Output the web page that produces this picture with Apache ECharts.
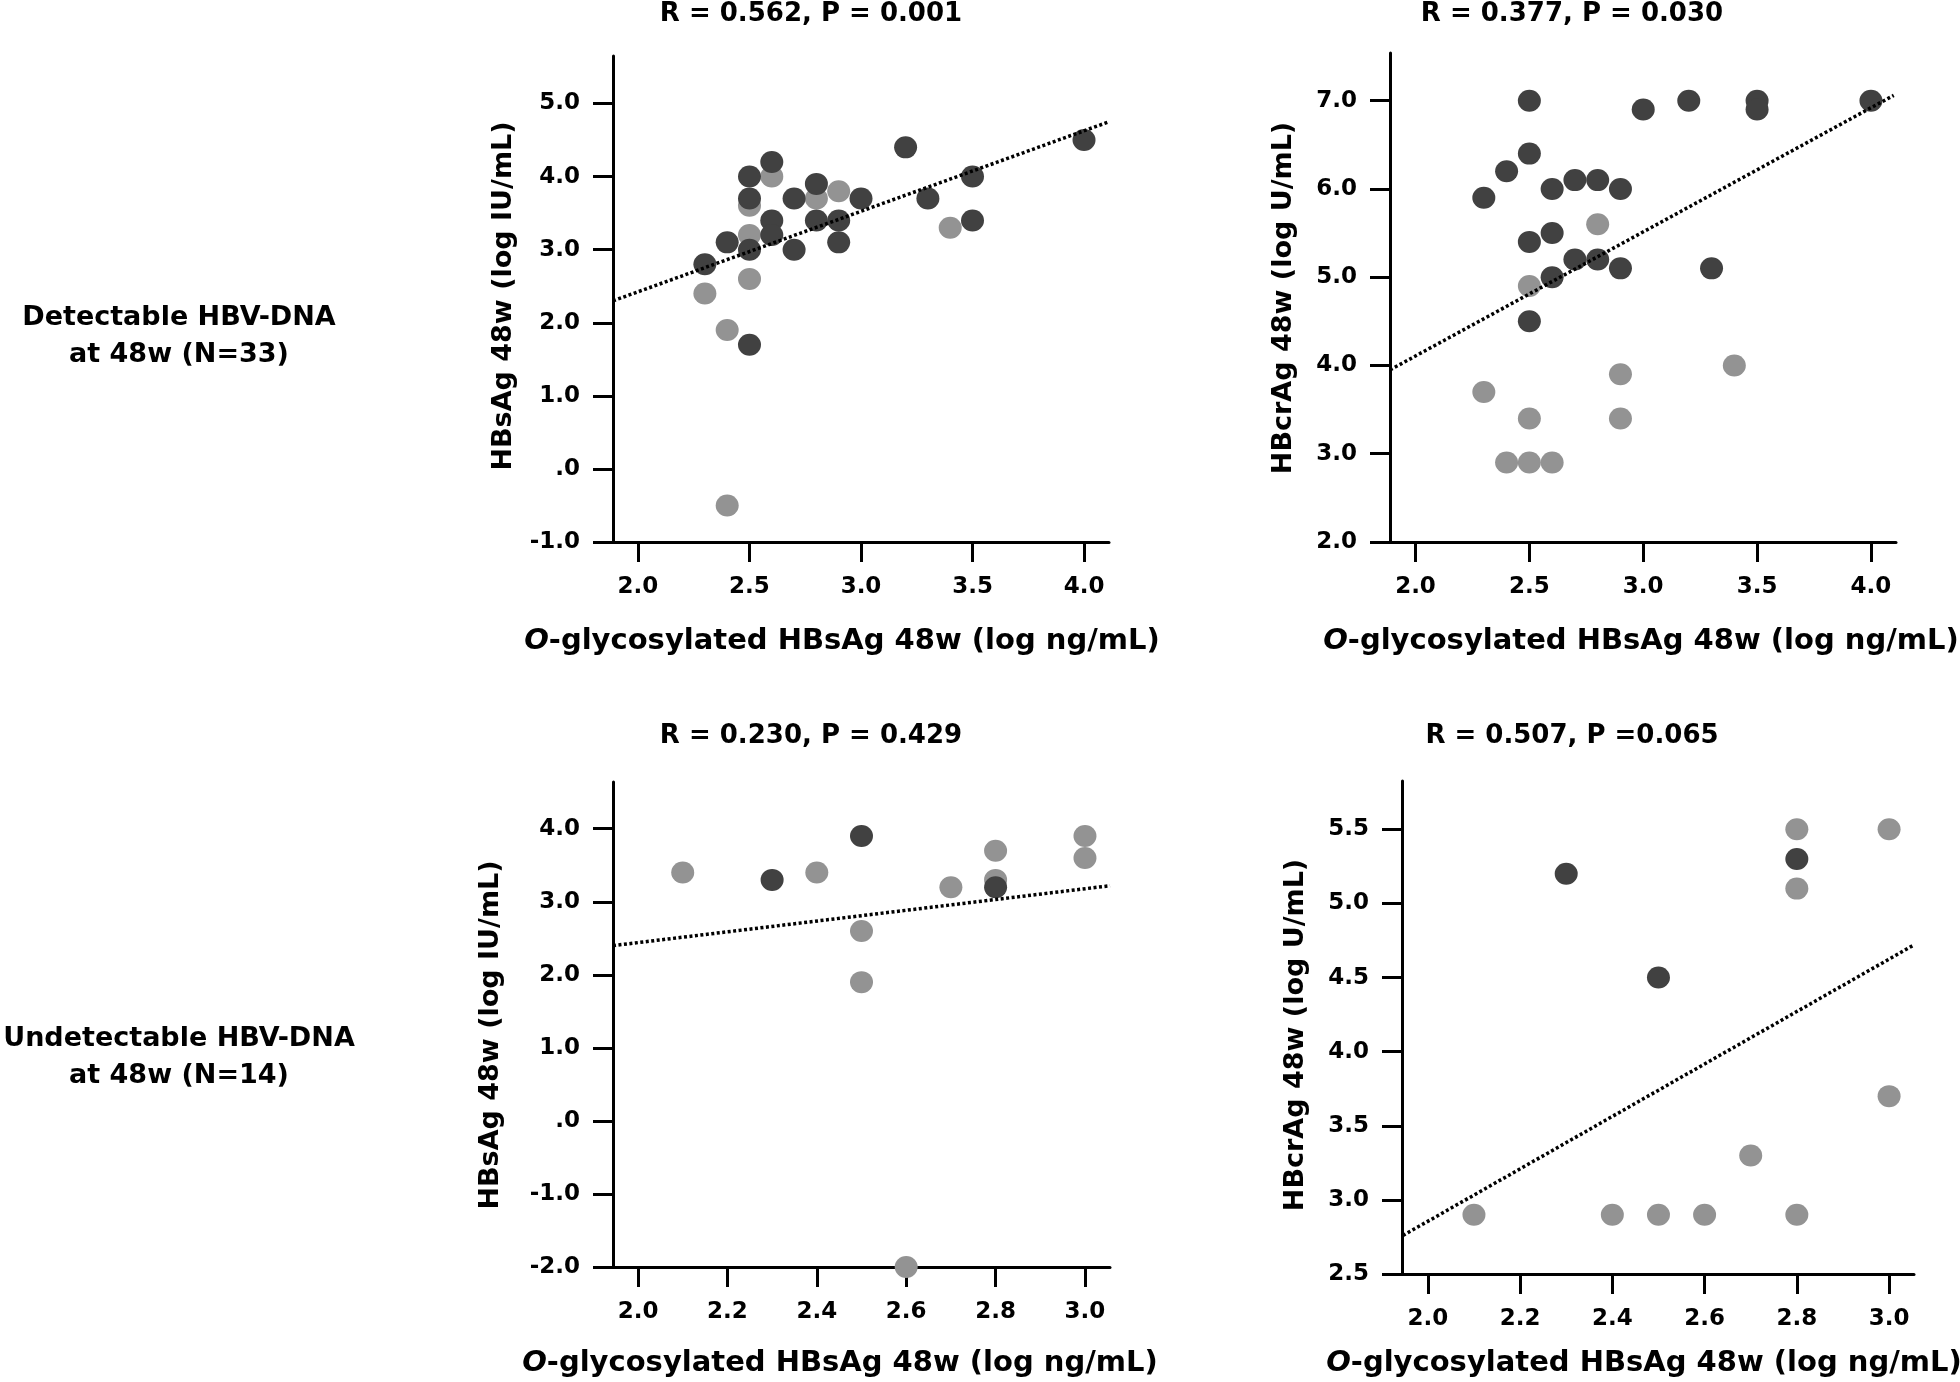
<!DOCTYPE html>
<html><head><meta charset="utf-8">
<script src="https://cdn.jsdelivr.net/npm/echarts@6/dist/echarts.min.js"></script>
<style>html,body{margin:0;padding:0;background:#fff}#c{width:1960px;height:1382px}</style>
</head><body><div id="c"></div>
<script>
// ---------- DATA ----------
const titles = ['R = 0.562, P = 0.001', 'R = 0.377, P = 0.030', 'R = 0.230, P = 0.429', 'R = 0.507, P =0.065'];
const rowLabels = [['Detectable HBV-DNA', 'at 48w (N=33)'], ['Undetectable HBV-DNA', 'at 48w (N=14)']];
const xName = 'O-glycosylated HBsAg 48w (log ng/mL)';
const yNames = ['HBsAg 48w (log IU/mL)', 'HBcrAg 48w (log U/mL)', 'HBsAg 48w (log IU/mL)', 'HBcrAg 48w (log U/mL)'];

const xTicksTop = [2.0, 2.5, 3.0, 3.5, 4.0];
const xTicksBottom = [2.0, 2.2, 2.4, 2.6, 2.8, 3.0];
const yTicks1 = [-1, 0, 1, 2, 3, 4, 5];
const yTicks2 = [2, 3, 4, 5, 6, 7];
const yTicks3 = [-2, -1, 0, 1, 2, 3, 4];
const yTicks4 = [2.5, 3.0, 3.5, 4.0, 4.5, 5.0, 5.5];

const xRange1 = [1.888, 4.112], yRange1 = [-1, 5.65];
const xRange2 = [1.888, 4.11], yRange2 = [2, 7.54];
const xRange3 = [1.944, 3.056], yRange3 = [-2, 4.64];
const xRange4 = [1.944, 3.054], yRange4 = [2.5, 5.826];

// Panel 1: detectable, HBsAg
const p1Dark = [[2.3,2.8],[2.4,3.1],[2.5,4.0],[2.5,3.7],[2.5,3.0],[2.5,1.7],[2.6,4.2],[2.6,3.4],[2.6,3.2],[2.7,3.7],[2.7,3.0],[2.8,3.9],[2.8,3.4],[2.9,3.4],[2.9,3.1],[3.0,3.7],[3.2,4.4],[3.3,3.7],[3.5,4.0],[3.5,3.4],[4.0,4.5]];
const p1Light = [[2.3,2.4],[2.4,1.9],[2.4,-0.5],[2.5,3.6],[2.5,3.2],[2.5,2.6],[2.6,4.0],[2.8,3.7],[2.9,3.8],[3.4,3.3]];
const p1Fit = [[1.888,2.30],[4.112,4.75]];

// Panel 2: detectable, HBcrAg
const p2Dark = [[2.3,5.9],[2.4,6.2],[2.5,7.0],[2.5,6.4],[2.5,5.4],[2.5,4.5],[2.6,6.0],[2.6,5.5],[2.6,5.0],[2.7,6.1],[2.7,5.2],[2.8,6.1],[2.8,5.2],[2.9,6.0],[2.9,5.1],[3.0,6.9],[3.2,7.0],[3.3,5.1],[3.5,7.0],[3.5,6.9],[4.0,7.0]];
const p2Light = [[2.3,3.7],[2.4,2.9],[2.5,2.9],[2.6,2.9],[2.5,3.4],[2.5,4.9],[2.8,5.6],[2.9,3.9],[2.9,3.4],[3.4,4.0]];
const p2Fit = [[1.888,3.95],[4.10,7.06]];

// Panel 3: undetectable, HBsAg
const p3Dark = [[2.3,3.3],[2.5,3.9],[2.8,3.2]];
const p3Light = [[2.1,3.4],[2.4,3.4],[2.5,2.6],[2.5,1.9],[2.6,-2.0],[2.7,3.2],[2.8,3.7],[2.8,3.3],[3.0,3.9],[3.0,3.6]];
const p3Fit = [[1.944,2.40],[3.056,3.22]];

// Panel 4: undetectable, HBcrAg
const p4Dark = [[2.3,5.2],[2.5,4.5],[2.8,5.3]];
const p4Light = [[2.1,2.9],[2.4,2.9],[2.5,2.9],[2.6,2.9],[2.8,2.9],[2.7,3.3],[2.8,5.5],[2.8,5.1],[3.0,5.5],[3.0,3.7]];
const p4Fit = [[1.946,2.76],[3.054,4.72]];

// ---------- STYLE ----------
const FONT = 'DejaVu Sans';
const DARK = '#414141', LIGHT = '#939393';
const grids = [
  {left: 613, top: 56, width: 496, height: 486},
  {left: 1390, top: 53, width: 506, height: 489},
  {left: 613, top: 782, width: 497, height: 485},
  {left: 1402, top: 781, width: 512, height: 493}
];
const panels = [
  {xr: xRange1, yr: yRange1, xt: xTicksTop, yt: yTicks1, dark: p1Dark, light: p1Light, fit: p1Fit},
  {xr: xRange2, yr: yRange2, xt: xTicksTop, yt: yTicks2, dark: p2Dark, light: p2Light, fit: p2Fit},
  {xr: xRange3, yr: yRange3, xt: xTicksBottom, yt: yTicks3, dark: p3Dark, light: p3Light, fit: p3Fit},
  {xr: xRange4, yr: yRange4, xt: xTicksBottom, yt: yTicks4, dark: p4Dark, light: p4Light, fit: p4Fit}
];
const fmt = v => Math.abs(v) < 1e-9 ? '.0' : Number(v).toFixed(1);
const axisCommon = {
  type: 'value',
  axisLine: {show: true, onZero: false, lineStyle: {color: '#000', width: 3}},
  axisTick: {show: true, inside: false, length: 20, lineStyle: {color: '#000', width: 3}},
  splitLine: {show: false},
};
const xAxes = [], yAxes = [], series = [];
panels.forEach((p, i) => {
  xAxes.push(Object.assign({}, axisCommon, {
    gridIndex: i, min: p.xr[0], max: p.xr[1],
    axisTick: Object.assign({}, axisCommon.axisTick, {customValues: p.xt}),
    axisLabel: {customValues: p.xt, formatter: fmt, margin: 34, color: '#000', fontFamily: FONT, fontWeight: 'bold', fontSize: 23}
  }));
  yAxes.push(Object.assign({}, axisCommon, {
    gridIndex: i, min: p.yr[0], max: p.yr[1],
    axisTick: Object.assign({}, axisCommon.axisTick, {customValues: p.yt}),
    axisLabel: {customValues: p.yt, formatter: fmt, margin: 33, color: '#000', fontFamily: FONT, fontWeight: 'bold', fontSize: 23}
  }));
  series.push({type: 'scatter', xAxisIndex: i, yAxisIndex: i, data: p.light, symbol: 'circle', symbolSize: [23, 22], itemStyle: {color: LIGHT, opacity: 1}, z: 2, silent: true});
  series.push({type: 'scatter', xAxisIndex: i, yAxisIndex: i, data: p.dark, symbol: 'circle', symbolSize: [23, 22], itemStyle: {color: DARK, opacity: 1}, z: 3, silent: true});
  series.push({type: 'line', xAxisIndex: i, yAxisIndex: i, data: p.fit, symbol: 'none', lineStyle: {color: '#000', width: 3.5, type: [3, 2.5]}, z: 4, silent: true});
});

const txt = (text, x, y, size, extra) => Object.assign({
  type: 'text', x: x, y: y,
  style: Object.assign({text: text, fill: '#000', fontFamily: FONT, fontWeight: 'bold', fontSize: size,
    align: 'center', verticalAlign: 'middle', textAlign: 'center', textVerticalAlign: 'middle'}, extra && extra.style || {})
}, extra && extra.el || {});
const xNameRich = {
  text: '{i|O}{n|' + xName.slice(1) + '}',
  rich: {
    i: {fontFamily: FONT, fontWeight: 'bold', fontStyle: 'italic', fontSize: 29, fill: '#000'},
    n: {fontFamily: FONT, fontWeight: 'bold', fontSize: 29, fill: '#000'}
  }
};
const titlePos = [[811, 14], [1572, 14], [811, 736], [1572, 736]];
const xNamePos = [[842, 641], [1641, 641], [840, 1363], [1644, 1363]];
const yNamePos = [[504, 296], [1284, 298], [491, 1035], [1296, 1035]];
const graphics = [];
titles.forEach((t, i) => graphics.push(txt(t, titlePos[i][0], titlePos[i][1], 26)));
xNamePos.forEach(p => graphics.push(txt('', p[0], p[1], 29, {style: xNameRich})));
yNames.forEach((t, i) => graphics.push(txt(t, yNamePos[i][0], yNamePos[i][1], 27, {el: {rotation: Math.PI / 2}})));
const rowPos = [[179, 318, 355], [179, 1039, 1076]];
rowLabels.forEach((r, i) => {
  graphics.push(txt(r[0], rowPos[i][0], rowPos[i][1], 27));
  graphics.push(txt(r[1], rowPos[i][0], rowPos[i][2], 27));
});

const chart = echarts.init(document.getElementById('c'), null, {renderer: 'canvas'});
chart.setOption({
  animation: false,
  backgroundColor: '#fff',
  grid: grids,
  xAxis: xAxes,
  yAxis: yAxes,
  series: series,
  graphic: {elements: graphics}
});
</script>
</body></html>
